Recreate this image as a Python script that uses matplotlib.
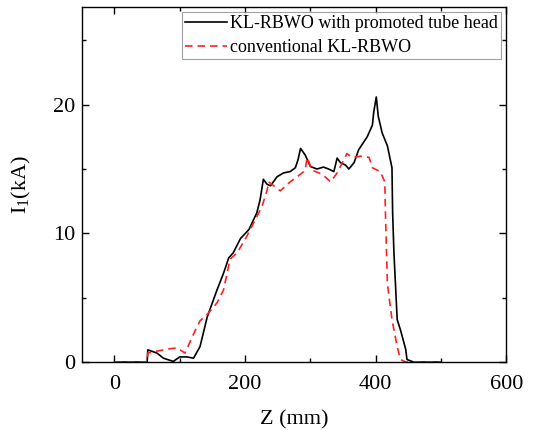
import numpy as np
import matplotlib
matplotlib.use("Agg")
import matplotlib.pyplot as plt
from matplotlib.ticker import MultipleLocator

plt.rcParams["font.family"] = ["Liberation Serif", "DejaVu Serif"]
plt.rcParams["mathtext.fontset"] = "custom"
plt.rcParams["mathtext.rm"] = "Liberation Serif"
plt.rcParams["mathtext.it"] = "Liberation Serif:italic"

# promoted tube head (solid black)
z_new = [0, 50, 51, 65, 75, 90, 100, 111, 121, 131, 142, 157, 167, 175, 182, 193, 206,
         218, 223, 228, 234, 239, 249, 259, 269, 277, 281, 285, 292, 300, 310, 320, 328,
         336, 341, 346, 354, 359, 367, 374, 387, 395, 397, 401, 404, 410, 418, 425, 426,
         428, 433, 438, 446, 448, 458, 500]
i_new = [0, 0, 0.95, 0.7, 0.3, 0.05, 0.4, 0.4, 0.3, 1.2, 3.5, 5.6, 6.9, 8.1, 8.5, 9.6, 10.3,
         11.6, 12.6, 14.2, 13.8, 13.7, 14.4, 14.7, 14.8, 15.1, 15.7, 16.6, 16.1, 15.2, 15.0, 15.15, 15.0,
         14.8, 15.85, 15.5, 15.3, 15.0, 15.5, 16.5, 17.5, 18.4, 19.4, 20.6, 19.1, 17.8, 16.8, 15.1, 11.6,
         8.5, 3.3, 2.5, 1.0, 0.2, 0, 0]

# conventional (dashed red)
z_conv = [0, 50, 51, 80, 96, 108, 124, 131, 142, 157, 167, 177, 188, 203, 213, 226, 234,
          236, 244, 254, 269, 285, 292, 295, 303, 318, 331, 341, 351, 356, 364, 377, 390,
          395, 407, 414, 415, 418, 425, 433, 438, 446, 500]
i_conv = [0, 0, 0.7, 1.0, 1.1, 0.7, 2.5, 3.2, 3.7, 4.6, 5.6, 8.0, 8.5, 9.8, 10.8, 12.1, 13.4,
          14.0, 13.7, 13.3, 14.0, 14.6, 14.9, 15.9, 14.9, 14.6, 14.0, 14.7, 15.7, 16.2, 15.9, 16.0, 15.9,
          15.1, 14.8, 14.0, 11.6, 6.1, 3.3, 1.2, 0.2, 0, 0]

fig = plt.figure(figsize=(5.42, 4.30), dpi=100)
ax = fig.add_axes([0.151, 0.158, 0.783, 0.826])

ax.plot(z_new, i_new, color="black", lw=1.2, label="KL-RBWO with promoted tube head")
ax.plot(z_conv, i_conv, color="#ff2020", lw=1.2, ls=(0, (4.5, 3)), label="conventional KL-RBWO")

ax.set_xlim(-50, 600)
ax.set_ylim(0, 27.6)
ax.xaxis.set_major_locator(MultipleLocator(200))
ax.xaxis.set_minor_locator(MultipleLocator(100))
ax.yaxis.set_major_locator(MultipleLocator(10))
ax.yaxis.set_minor_locator(MultipleLocator(5))
ax.tick_params(which="both", direction="in", top=True, right=True, labelsize=16, width=1.0)
ax.tick_params(which="major", length=5)
ax.tick_params(which="minor", length=3)
ax.tick_params(axis="x", pad=9)
ax.tick_params(axis="y", pad=5)
for s in ax.spines.values():
    s.set_linewidth(1.0)

ax.set_xlabel("Z (mm)", fontsize=16, labelpad=12)
ax.set_ylabel(r"I$_1$(kA)", fontsize=16, labelpad=14)

leg = ax.legend(loc="upper right", fontsize=13, frameon=True, fancybox=False,
                edgecolor="#888888", borderaxespad=0.3, handlelength=2.3,
                borderpad=0.15, labelspacing=0.4, handletextpad=0.2)
leg.get_frame().set_linewidth(0.8)

plt.savefig("out.png", dpi=100)
